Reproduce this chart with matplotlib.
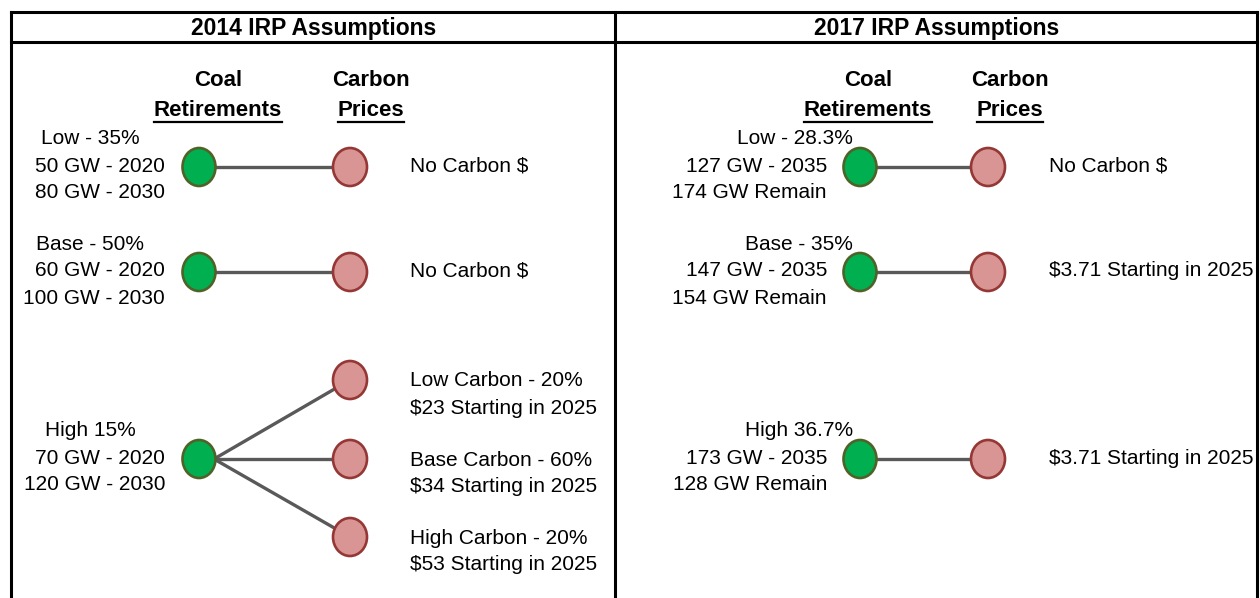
import matplotlib
matplotlib.use("Agg")
import matplotlib.pyplot as plt
from matplotlib.patches import Ellipse

plt.rcParams["font.family"] = ["Liberation Sans", "DejaVu Sans"]

# ---- data ----
panel_titles = ["2014 IRP Assumptions", "2017 IRP Assumptions"]
col_titles = [("Coal", "Retirements"), ("Carbon", "Prices")]

coal_2014_heads = ["Low - 35%", "Base - 50%", "High 15%"]
coal_2014_lines = [["50 GW - 2020", "80 GW - 2030"],
                   ["60 GW - 2020", "100 GW - 2030"],
                   ["70 GW - 2020", "120 GW - 2030"]]
carbon_2014 = [["No Carbon $"],
               ["No Carbon $"],
               ["Low Carbon - 20%", "$23 Starting in 2025"],
               ["Base Carbon - 60%", "$34 Starting in 2025"],
               ["High Carbon - 20%", "$53 Starting in 2025"]]
links_2014 = [(0, 0), (1, 1), (2, 2), (2, 3), (2, 4)]

coal_2017_heads = ["Low - 28.3%", "Base - 35%", "High 36.7%"]
coal_2017_lines = [["127 GW - 2035", "174 GW Remain"],
                   ["147 GW - 2035", "154 GW Remain"],
                   ["173 GW - 2035", "128 GW Remain"]]
carbon_2017 = [["No Carbon $"],
               ["$3.71 Starting in 2025"],
               ["$3.71 Starting in 2025"]]
links_2017 = [(0, 0), (1, 1), (2, 2)]

# ---- layout (pixel space) ----
W, H = 1260, 598
coal_y_rows = [167, 272, 459]
carbon_y_2014 = [167, 272, 380, 459, 537]
carbon_y_2017 = [167, 272, 459]

GREEN, GREEN_EDGE = "#00B050", "#4F6228"
PINK, PINK_EDGE = "#D99594", "#953735"
LINK = "#595959"
FS = 15

fig = plt.figure(figsize=(W / 100, H / 100), dpi=100)
ax = fig.add_axes([0, 0, 1, 1])
ax.set_xlim(0, W)
ax.set_ylim(H, 0)
ax.axis("off")

# frame
lw = 2.2
ax.plot([11, 1257], [12, 12], color="black", lw=lw)
ax.plot([11, 1257], [42, 42], color="black", lw=lw)
ax.plot([11, 11], [12, H + 5], color="black", lw=lw)
ax.plot([615, 615], [12, H + 5], color="black", lw=lw)
ax.plot([1257, 1257], [12, H + 5], color="black", lw=lw)

ax.text(314, 28, panel_titles[0], ha="center", va="center", fontsize=16.5, fontweight="bold")
ax.text(937, 28, panel_titles[1], ha="center", va="center", fontsize=16.5, fontweight="bold")

underlined = []
for cx_coal, cx_carbon in [(218, 371), (868, 1010)]:
    for cx, (t1, t2) in zip([cx_coal, cx_carbon], col_titles):
        ax.text(cx, 80, t1, ha="center", va="center", fontsize=16, fontweight="bold")
        underlined.append(ax.text(cx, 110, t2, ha="center", va="center", fontsize=16, fontweight="bold"))


def draw_panel(gx, px, heads, lines, carbons, carbon_y, links, head_x, head_ha, line_x, label_x):
    for a, b in links:
        ax.plot([gx + 15, px], [coal_y_rows[a], carbon_y[b]], color=LINK, lw=2.4, zorder=1,
                solid_capstyle="butt")
    for y, head, ls in zip(coal_y_rows, heads, lines):
        ax.add_patch(Ellipse((gx, y), 33, 38, facecolor=GREEN, edgecolor=GREEN_EDGE, lw=1.9, zorder=3))
        ax.text(head_x, y - 28, head, ha=head_ha, va="center", fontsize=FS)
        for i, s in enumerate(ls):
            ax.text(line_x, y - 1 + 27 * i, s, ha="right", va="center", fontsize=FS)
    for y, lab in zip(carbon_y, carbons):
        ax.add_patch(Ellipse((px, y), 34, 38, facecolor=PINK, edgecolor=PINK_EDGE, lw=1.9, zorder=3))
        y0 = y - 1 if len(lab) == 1 else y + 1
        for i, s in enumerate(lab):
            ax.text(label_x, y0 + 27 * i, s, ha="left", va="center", fontsize=FS)


draw_panel(199, 350, coal_2014_heads, coal_2014_lines, carbon_2014, carbon_y_2014, links_2014,
           90, "center", 165, 410)
draw_panel(860, 988, coal_2017_heads, coal_2017_lines, carbon_2017, carbon_y_2017, links_2017,
           853, "right", 827, 1049)

# underline the second header row
fig.canvas.draw()
inv = ax.transData.inverted()
for t in underlined:
    bb = t.get_window_extent()
    (x0, _), (x1, _) = inv.transform([[bb.x0, bb.y0], [bb.x1, bb.y0]])
    ax.plot([x0, x1], [122, 122], color="black", lw=1.6)

fig.savefig("out.png", dpi=100)
